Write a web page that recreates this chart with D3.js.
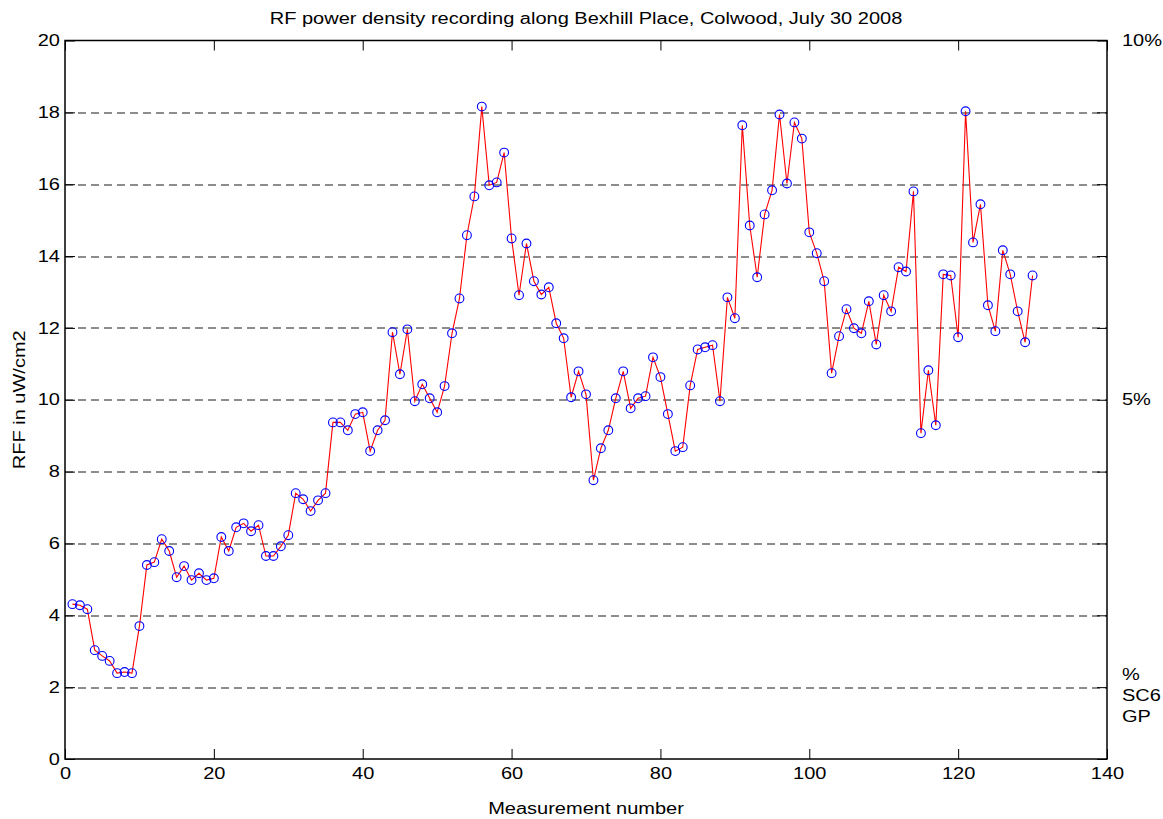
<!DOCTYPE html>
<html>
<head>
<meta charset="utf-8">
<script src="https://cdn.jsdelivr.net/npm/d3@7"></script>
<style>
  html, body { margin: 0; padding: 0; background: #fff; }
  svg { display: block; font-family: "Liberation Sans", Arial, sans-serif; }
</style>
</head>
<body>
<svg id="chart" width="1163" height="819"></svg>
<script>
// RF power density readings, one per measurement point (uW/cm2)
const rffValues = [
  4.31, 4.28, 4.17, 3.03, 2.87, 2.73, 2.39, 2.42, 2.39, 3.70,
  5.40, 5.48, 6.12, 5.79, 5.06, 5.37, 4.98, 5.17, 4.98, 5.03,
  6.18, 5.79, 6.45, 6.56, 6.34, 6.51, 5.65, 5.65, 5.92, 6.23,
  7.40, 7.23, 6.90, 7.20, 7.40, 9.37, 9.37, 9.15, 9.60, 9.65,
  8.57, 9.15, 9.43, 11.88, 10.71, 11.96, 9.96, 10.43, 10.04, 9.65,
  10.38, 11.85, 12.82, 14.58, 15.66, 18.16, 15.97, 16.05, 16.88, 14.49,
  12.91, 14.35, 13.30, 12.93, 13.13, 12.13, 11.71, 10.07, 10.79, 10.15,
  7.76, 8.65, 9.15, 10.04, 10.79, 9.76, 10.04, 10.10, 11.18, 10.63,
  9.60, 8.57, 8.68, 10.40, 11.40, 11.46, 11.52, 9.96, 12.85, 12.27,
  17.64, 14.85, 13.41, 15.16, 15.83, 17.94, 16.02, 17.72, 17.27, 14.66,
  14.08, 13.30, 10.74, 11.77, 12.52, 11.99, 11.85, 12.74, 11.54, 12.91,
  12.46, 13.69, 13.57, 15.80, 9.07, 10.82, 9.29, 13.49, 13.46, 11.74,
  18.03, 14.38, 15.44, 12.63, 11.91, 14.16, 13.49, 12.46, 11.60, 13.46
];
const measurementNumbers = rffValues.map((_, i) => i + 1);

const xTicks = [0, 20, 40, 60, 80, 100, 120, 140];
const yTicks = [0, 2, 4, 6, 8, 10, 12, 14, 16, 18, 20];
const gridLevels = [2, 4, 6, 8, 10, 12, 14, 16, 18];
const rightLabels = [
  { value: 20, text: "10%" },
  { value: 10, text: "5%" }
];
const rightNote = ["%", "SC6", "GP"];

const titleText = "RF power density recording along Bexhill Place, Colwood, July 30 2008";
const xLabelText = "Measurement number";
const yLabelText = "RFF in uW/cm2";

const margin = { left: 65, right: 56, top: 40.5, bottom: 60 };
const width = 1163, height = 819;
const plotW = width - margin.left - margin.right;
const plotH = height - margin.top - margin.bottom;
const fontSize = 16;
const stretchX = 1.25; // wide sans lettering

const svg = d3.select("#chart");
const g = svg.append("g").attr("transform", `translate(${margin.left},${margin.top})`);

const x = d3.scaleLinear().domain([0, 140]).range([0, plotW]);
const y = d3.scaleLinear().domain([0, 20]).range([plotH, 0]);

// move a text's x/y into a transform so it can be widened in place
function widen(sel, rot) {
  sel.each(function () {
    const t = d3.select(this);
    const tx = +t.attr("x") || 0, ty = +t.attr("y") || 0;
    t.attr("x", null).attr("y", null)
      .attr("transform", `translate(${tx},${ty})${rot ? ` rotate(${rot})` : ""} scale(${stretchX},1)`);
  });
}

// dashed horizontal grid
g.append("g").selectAll("line").data(gridLevels).join("line")
  .attr("x1", 0).attr("x2", plotW)
  .attr("y1", d => Math.round(y(d)) + 0.5).attr("y2", d => Math.round(y(d)) + 0.5)
  .attr("stroke", "#1a1a1a").attr("stroke-width", 1)
  .attr("stroke-dasharray", "8,5");

// axes with inward ticks on all four sides
const tickLen = 10;
const xBottom = d3.axisBottom(x).tickValues(xTicks).tickSize(-tickLen).tickPadding(9).tickFormat(d3.format("d"));
const xTop = d3.axisTop(x).tickValues(xTicks).tickSize(-tickLen).tickFormat("");
const yLeft = d3.axisLeft(y).tickValues(yTicks).tickSize(-tickLen).tickPadding(5).tickFormat(d3.format("d"));
const yRight = d3.axisRight(y).tickValues(yTicks).tickSize(-tickLen).tickFormat("");

function styleAxis(sel) {
  sel.select(".domain").remove();
  sel.selectAll(".tick line").attr("stroke", "#000").attr("stroke-width", 1);
  sel.selectAll(".tick text").attr("fill", "#000").attr("font-size", fontSize)
    .attr("font-family", "'Liberation Sans', Arial, sans-serif")
    .call(widen);
}
g.append("g").attr("transform", `translate(0,${plotH})`).call(xBottom).call(styleAxis);
g.append("g").call(xTop).call(styleAxis);
g.append("g").call(yLeft).call(styleAxis);
g.append("g").attr("transform", `translate(${plotW},0)`).call(yRight).call(styleAxis);

// frame
g.append("rect").attr("x", 0).attr("y", 0).attr("width", plotW).attr("height", plotH)
  .attr("fill", "none").attr("stroke", "#000").attr("stroke-width", 1.5);

// readings line
const line = d3.line().x((d, i) => x(measurementNumbers[i])).y(d => y(d));
g.append("path").datum(rffValues)
  .attr("d", line).attr("fill", "none").attr("stroke", "#ff0000").attr("stroke-width", 1.1);

// open circle markers
g.append("g").selectAll("circle").data(rffValues).join("circle")
  .attr("cx", (d, i) => x(measurementNumbers[i])).attr("cy", d => y(d))
  .attr("r", 4.4).attr("fill", "none").attr("stroke", "#0000ff").attr("stroke-width", 1.1);

// right-side percentage labels
g.append("g").selectAll("text").data(rightLabels).join("text")
  .attr("x", plotW + 15).attr("y", d => y(d.value)).attr("dy", "0.35em")
  .attr("font-size", fontSize).attr("fill", "#000").text(d => d.text)
  .call(widen);

g.append("g").selectAll("text").data(rightNote).join("text")
  .attr("x", plotW + 15).attr("y", (d, i) => y(2) - 13 + i * 21).attr("dy", "0.35em")
  .attr("font-size", fontSize).attr("fill", "#000").text(d => d)
  .call(widen);

// title and axis labels
svg.append("text").attr("x", margin.left + plotW / 2).attr("y", 24)
  .attr("text-anchor", "middle").attr("font-size", fontSize).attr("fill", "#000").text(titleText)
  .call(widen);
svg.append("text").attr("x", margin.left + plotW / 2).attr("y", 814)
  .attr("text-anchor", "middle").attr("font-size", fontSize).attr("fill", "#000").text(xLabelText)
  .call(widen);
svg.append("text").attr("x", 25).attr("y", margin.top + plotH / 2)
  .attr("text-anchor", "middle").attr("font-size", fontSize).attr("fill", "#000").text(yLabelText)
  .call(widen, -90);
</script>
</body>
</html>
